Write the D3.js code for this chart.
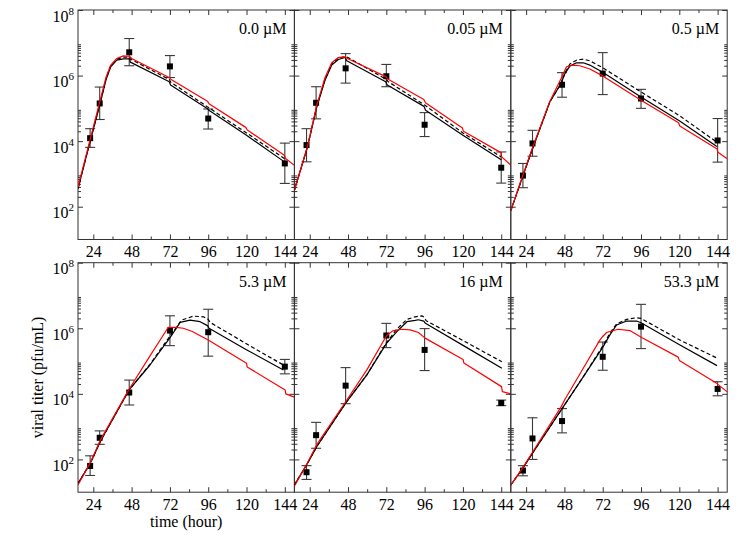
<!DOCTYPE html>
<html><head><meta charset="utf-8">
<script src="https://cdn.jsdelivr.net/npm/d3@7"></script>
<style>body{margin:0;background:#fff}</style>
</head><body>
<svg id="chart" width="750" height="540"></svg>
<script>
// ---------------- data ----------------
const panelLabels = ["0.0 µM", "0.05 µM", "0.5 µM", "5.3 µM", "16 µM", "53.3 µM"];
const sampleHours = [22, 28, 46.5, 72, 96, 144];
// log10 of viral titer (pfu/mL)
const titerMeanLog10 = [
  [4.09, 5.15, 6.71, 6.28, 4.69, 3.32],
  [3.88, 5.17, 6.22, 5.98, 4.50, 3.19],
  [2.95, 3.93, 5.72, 6.06, 5.30, 4.02],
  [1.80, 2.66, 4.04, 5.93, 5.88, 4.83],
  [1.61, 2.74, 4.25, 5.78, 5.34, 3.72],
  [1.66, 2.64, 3.17, 5.13, 6.05, 4.15]
];
const titerHighLog10 = [
  [4.38, 5.65, 7.13, 6.61, 4.98, 3.94],
  [4.38, 5.66, 6.67, 6.34, 4.87, 3.67],
  [3.32, 4.33, 6.09, 6.70, 5.58, 4.69],
  [2.11, 2.87, 4.42, 6.38, 6.58, 5.05],
  [1.81, 3.13, 4.80, 6.15, 5.99, 3.81],
  [1.81, 3.27, 3.55, 5.58, 6.73, 4.37]
];
const titerLowLog10 = [
  [3.81, 4.66, 6.30, 5.94, 4.37, 2.71],
  [3.37, 4.68, 5.77, 5.66, 4.14, 2.72],
  [2.58, 3.54, 5.34, 5.42, 5.00, 3.36],
  [1.51, 2.46, 3.66, 5.47, 5.15, 4.61],
  [1.39, 2.34, 3.70, 5.41, 4.71, 3.64],
  [1.50, 2.00, 2.81, 4.72, 5.38, 3.94]
];
// model curves: [hour, log10 titer]
const modelSolid = [
  [[14.4,2.55],[21.9,3.97],[28.3,5.15],[31.9,5.86],[34.9,6.27],[38.7,6.47],[42.8,6.51],[46.8,6.51],[47.2,6.41],[71.6,5.81],[72.4,5.71],[95.6,4.99],[96.4,4.94],[120,4.18],[144,3.36]],
  [[14.4,2.50],[22.6,3.82],[28.4,5.04],[33.6,5.86],[37.8,6.32],[41.9,6.49],[46.2,6.55],[47.2,6.45],[71.6,5.81],[72.6,5.71],[95.6,5.06],[96.6,4.94],[120,4.18],[144,3.43]],
  [[14.4,1.88],[21.9,2.93],[28,3.77],[38.9,5.20],[45.9,5.76],[48.3,6.06],[51.4,6.29],[55.6,6.39],[59.8,6.39],[63.9,6.32],[72,6.10],[96,5.35],[120,4.62],[143.5,3.84]],
  [[14.4,1.27],[22.1,1.88],[28.3,2.54],[46.4,4.12],[59.5,4.88],[72.3,5.73],[78.4,6.18],[84.6,6.25],[90.9,6.20],[95.5,6.08],[96.5,6.00],[120.2,5.34],[143.1,4.73]],
  [[14.4,1.22],[22.6,1.88],[28.4,2.39],[46.4,3.71],[59.8,4.58],[72.1,5.54],[78.6,5.90],[84.9,6.20],[90.1,6.24],[92.1,6.26],[95.5,6.22],[96.5,6.15],[121.4,5.44],[144.4,4.78]],
  [[14.4,1.22],[21.9,1.73],[28,2.19],[46,3.51],[59.8,4.52],[72.3,5.44],[76.5,5.80],[80.7,6.10],[87,6.22],[93.2,6.22],[96,6.17],[120.4,5.49],[143.6,4.86]]
];
const modelDashed = [
  [[14.4,2.55],[21.9,3.98],[28.3,5.17],[31.9,5.89],[34.9,6.30],[38.7,6.50],[42.8,6.56],[46.8,6.56],[47.4,6.50],[71.6,5.88],[72.5,5.80],[96,5.03],[120,4.25],[144,3.46]],
  [[14.4,2.50],[22.6,3.83],[28.4,5.06],[33.6,5.89],[37.8,6.36],[41.9,6.53],[46.2,6.58],[48,6.55],[72,5.88],[73,5.82],[96,5.10],[120,4.25],[144,3.52]],
  [[14.4,1.88],[21.9,2.93],[28,3.77],[38.9,5.20],[45.9,5.76],[48.3,6.08],[51.4,6.35],[55.6,6.47],[59.8,6.50],[63.9,6.45],[72,6.24],[96,5.50],[120,4.78],[143.5,3.97]],
  [[14.4,1.27],[22.1,1.88],[28.3,2.54],[46.4,4.12],[59.5,4.90],[72.3,5.78],[79.3,6.25],[86.7,6.37],[93,6.35],[95.8,6.28],[97.2,6.18],[120.2,5.52],[143.1,4.88]],
  [[14.4,1.22],[22.6,1.88],[28.4,2.39],[46.4,3.71],[59.8,4.58],[72.1,5.56],[78.6,5.98],[84.9,6.27],[90,6.35],[94.3,6.38],[95.8,6.33],[97,6.23],[121.4,5.59],[144.4,4.98]],
  [[14.4,1.22],[21.9,1.73],[28,2.19],[46,3.51],[59.8,4.52],[72.3,5.48],[76.5,5.85],[80.7,6.13],[87,6.27],[93,6.32],[96,6.30],[120.4,5.64],[143.6,5.09]]
];
const modelRed = [
  [[14.4,2.60],[21.9,4.03],[28.3,5.25],[31.9,5.94],[34.9,6.32],[38.7,6.52],[42.8,6.60],[46.6,6.59],[48,6.52],[71.5,5.94],[72.5,5.89],[95.5,5.22],[96.5,5.14],[119.5,4.42],[120.5,4.34],[143.7,3.57],[144.3,3.48],[150,3.26]],
  [[14.4,2.50],[22.6,3.84],[28.4,5.09],[33.6,5.94],[37.8,6.39],[41.9,6.55],[46.2,6.57],[47.6,6.52],[72,5.96],[72.6,5.90],[95.5,5.27],[96.5,5.17],[119.7,4.40],[120.3,4.30],[143.8,3.65],[144.3,3.52],[150,3.27]],
  [[14.4,1.88],[21.9,2.95],[28,3.80],[38.9,5.22],[45.9,5.91],[49.3,6.27],[53.5,6.32],[57.6,6.30],[63.9,6.20],[72,5.99],[96,5.25],[119.5,4.56],[120.3,4.46],[143.7,3.76],[144.2,3.66],[150,3.46]],
  [[14.4,1.22],[22.1,1.90],[28.3,2.58],[46.4,4.14],[59.5,5.16],[71,6.03],[75.7,6.03],[80.4,6.00],[86,5.90],[96,5.64],[120,4.93],[120.4,4.82],[144.2,4.12],[144.6,4.00],[150,3.90]],
  [[14.4,1.18],[22.6,1.90],[28.4,2.45],[46.4,3.75],[59.8,4.73],[72.1,5.77],[76,5.92],[81.7,5.97],[87,5.95],[92.1,5.87],[96.3,5.70],[120.1,5.05],[120.6,4.94],[144.2,4.22],[144.7,4.07],[150,4.00]],
  [[14.4,1.22],[21.9,1.75],[28,2.22],[46,3.61],[48.5,3.85],[49.3,3.91],[59.8,4.78],[70.2,5.64],[72,5.75],[74.4,5.87],[81.7,5.97],[89,5.93],[96.4,5.72],[119.3,5.12],[120,5.02],[143.4,4.32],[150,4.06]]
];
const xTicksMajor = [24, 48, 72, 96, 120, 144];
const xTicksMinor = [36, 60, 84, 108, 132];
const yTicksMajor = [1e2, 1e4, 1e6, 1e8];
const yTicksMinor = [200,300,400,500,600,700,800,900,
                     2e4,3e4,4e4,5e4,6e4,7e4,8e4,9e4,
                     2e6,3e6,4e6,5e6,6e6,7e6,8e6,9e6];
const xTitle = "time (hour)";
const yTitle = "viral titer (pfu/mL)";

// ---------------- layout ----------------
const W = 216.4, H = 229.5, left0 = 78, top0 = 10, rowStep = 252.7;
const FONT = "Liberation Serif";
const axisColor = "#333";
const svg = d3.select("#chart");
const x = d3.scaleLinear().domain([14.4, 150]).range([0, W]);
const y = d3.scaleLog().domain([10, 1e8]).range([H, 0]);
const line = d3.line().x(d => x(d[0])).y(d => y(Math.pow(10, d[1]))).curve(d3.curveLinear);

svg.append("defs").append("clipPath").attr("id", "clip")
  .append("rect").attr("x", 0).attr("y", 0).attr("width", W).attr("height", H);

function styleAxis(sel) {
  sel.select(".domain").remove();
  sel.selectAll("line").attr("stroke", axisColor).attr("stroke-width", 1);
  sel.attr("font-family", FONT).attr("font-size", 16);
  sel.selectAll("text").attr("fill", "#000");
}

panelLabels.forEach((label, i) => {
  const col = i % 3, row = Math.floor(i / 3);
  const g = svg.append("g").attr("transform", `translate(${left0 + col * W},${top0 + row * rowStep})`);

  // axes (ticks inward)
  g.append("g").attr("transform", `translate(0,${H})`)
    .call(d3.axisBottom(x).tickValues(xTicksMajor).tickSize(-5).tickPadding(6.5).tickFormat(d3.format("d"))).call(styleAxis);
  g.append("g").attr("transform", `translate(0,${H})`)
    .call(d3.axisBottom(x).tickValues(xTicksMinor).tickSize(-3).tickFormat("")).call(styleAxis);
  g.append("g").call(d3.axisTop(x).tickValues(xTicksMajor).tickSize(-5).tickFormat("")).call(styleAxis);
  g.append("g").call(d3.axisTop(x).tickValues(xTicksMinor).tickSize(-3).tickFormat("")).call(styleAxis);

  const yl = g.append("g")
    .call(d3.axisLeft(y).tickValues(yTicksMajor).tickSize(-5).tickPadding(4)
      .tickFormat(col === 0 ? (d => "10") : "")).call(styleAxis);
  if (col === 0) {
    yl.selectAll(".tick text").each(function (d) {
      const t = d3.select(this);
      t.attr("dy", "11").text(null);
      t.append("tspan").text("10");
      t.append("tspan").attr("dy", "-7").attr("font-size", 11).text(Math.round(Math.log10(d)));
    });
  }
  g.append("g").call(d3.axisLeft(y).tickValues(yTicksMinor).tickSize(-3).tickFormat("")).call(styleAxis);
  g.append("g").attr("transform", `translate(${W},0)`)
    .call(d3.axisRight(y).tickValues(yTicksMajor).tickSize(-5).tickFormat("")).call(styleAxis);
  g.append("g").attr("transform", `translate(${W},0)`)
    .call(d3.axisRight(y).tickValues(yTicksMinor).tickSize(-3).tickFormat("")).call(styleAxis);

  g.append("rect").attr("width", W).attr("height", H)
    .attr("fill", "none").attr("stroke", axisColor).attr("stroke-width", 1);

  // data with error bars
  const pts = sampleHours.map((h, j) => ({
    h, m: Math.pow(10, titerMeanLog10[i][j]),
    hi: Math.pow(10, titerHighLog10[i][j]), lo: Math.pow(10, titerLowLog10[i][j])
  }));
  const eb = g.append("g").attr("stroke", "#3a3a3a").attr("stroke-width", 1.1);
  eb.selectAll(".v").data(pts).join("line")
    .attr("x1", d => x(d.h)).attr("x2", d => x(d.h)).attr("y1", d => y(d.hi)).attr("y2", d => y(d.lo));
  eb.selectAll(".t").data(pts).join("line")
    .attr("x1", d => x(d.h) - 5).attr("x2", d => x(d.h) + 5).attr("y1", d => y(d.hi)).attr("y2", d => y(d.hi));
  eb.selectAll(".b").data(pts).join("line")
    .attr("x1", d => x(d.h) - 5).attr("x2", d => x(d.h) + 5).attr("y1", d => y(d.lo)).attr("y2", d => y(d.lo));
  g.append("g").selectAll("rect").data(pts).join("rect")
    .attr("x", d => x(d.h) - 3).attr("y", d => y(d.m) - 3).attr("width", 6).attr("height", 6).attr("fill", "#000");

  // model curves
  const cg = g.append("g").attr("clip-path", "url(#clip)").attr("fill", "none").attr("stroke-linejoin", "round");
  cg.append("path").attr("d", line(modelDashed[i])).attr("stroke", "#000").attr("stroke-width", 1.2).attr("stroke-dasharray", "4,2.5");
  cg.append("path").attr("d", line(modelSolid[i])).attr("stroke", "#000").attr("stroke-width", 1.2);
  cg.append("path").attr("d", line(modelRed[i])).attr("stroke", "#f00").attr("stroke-width", 1.2);

  // panel label
  g.append("text").attr("x", W - 8).attr("y", 24).attr("text-anchor", "end")
    .attr("font-family", FONT).attr("font-size", 16).attr("fill", "#000").text(label);
});

// axis titles
svg.append("text").attr("x", left0 + W / 2).attr("y", 527).attr("text-anchor", "middle")
  .attr("font-family", FONT).attr("font-size", 16).attr("fill", "#000").text(xTitle);
svg.append("text").attr("transform", `translate(43,${top0 + rowStep + H / 2}) rotate(-90)`)
  .attr("text-anchor", "middle").attr("font-family", FONT).attr("font-size", 16).attr("fill", "#000").text(yTitle);
</script>
</body></html>
